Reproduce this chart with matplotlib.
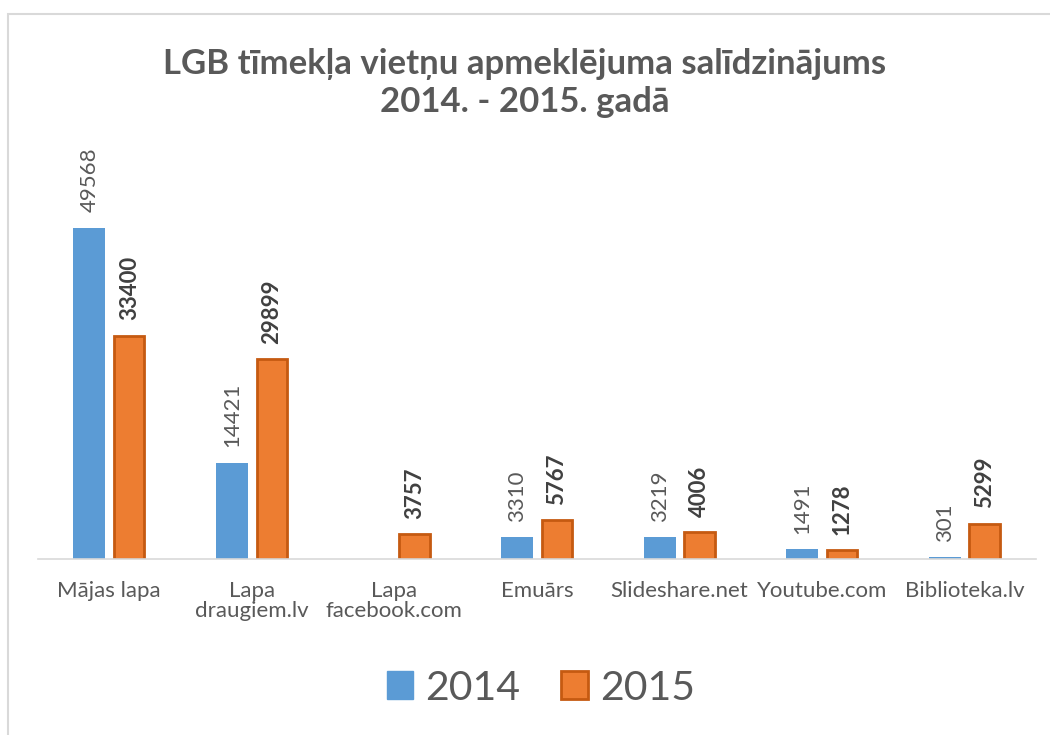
import matplotlib.pyplot as plt
import numpy as np
from matplotlib.patches import Rectangle, Patch

categories = ['Mājas lapa', 'Lapa\ndraugiem.lv', 'Lapa\nfacebook.com', 'Emuārs',
              'Slideshare.net', 'Youtube.com', 'Biblioteka.lv']
values_2014 = [49568, 14421, None, 3310, 3219, 1491, 301]
values_2015 = [33400, 29899, 3757, 5767, 4006, 1278, 5299]
series_names = ['2014', '2015']

blue = '#5B9BD5'
orange = '#ED7D31'
orange_edge = '#C55A11'
text_gray = '#595959'

plt.rcParams['font.family'] = ['Lato', 'DejaVu Sans']

fig = plt.figure(figsize=[10.5, 7.35], dpi=100)
ax = fig.add_axes([38 / 1050, 1 - 559 / 735, 998 / 1050, (559 - 158) / 735])

x = np.arange(len(categories))
w = 0.225
off = 0.14

v14 = np.array([np.nan if v is None else v for v in values_2014], dtype=float)
v15 = np.array(values_2015, dtype=float)

ax.bar(x - off, np.nan_to_num(v14), width=w, color=blue, linewidth=0)
ax.bar(x + off, v15, width=w - 0.012, color=orange, edgecolor=orange_edge, linewidth=2)

# value labels, 2015 ones in bold
for i in range(len(categories)):
    if not np.isnan(v14[i]):
        ax.annotate(str(int(v14[i])), (x[i] - off, v14[i]), xytext=(0, 11),
                    textcoords='offset points', rotation=90, ha='center', va='bottom',
                    fontsize=16, color=text_gray)
    ax.annotate(str(int(v15[i])), (x[i] + off, v15[i]), xytext=(0, 11),
                textcoords='offset points', rotation=90, ha='center', va='bottom',
                fontsize=16, color='#404040', fontweight='bold')

ax.set_xlim(-0.5, len(categories) - 0.5)
ax.set_ylim(0, 60000)
ax.set_xticks(x)
ax.set_xticklabels(categories, fontsize=16, color=text_gray, linespacing=1.0)
ax.tick_params(axis='x', length=0, pad=16)
ax.set_yticks([])
for s in ['top', 'right', 'left']:
    ax.spines[s].set_visible(False)
ax.spines['bottom'].set_color('#D9D9D9')
ax.spines['bottom'].set_linewidth(1.2)

fig.text(0.5, 1 - 83 / 735, 'LGB tīmekļa vietņu apmeklējuma salīdzinājums\n2014. - 2015. gadā',
         ha='center', va='center', fontsize=25, fontweight='bold', color=text_gray,
         linespacing=1.25)

handles = [Patch(facecolor=blue, edgecolor=blue),
           Patch(facecolor=orange, edgecolor=orange_edge, linewidth=2)]
fig.legend(handles, series_names, loc='center', bbox_to_anchor=(541 / 1050, 1 - 688 / 735),
           ncol=2, frameon=False, fontsize=29.5, labelcolor=text_gray,
           handlelength=0.65, handleheight=0.65, handletextpad=0.3, columnspacing=1.0)

# chart border (only top and left edge visible in the crop)
fig.patches.append(Rectangle((8 / 1050, -0.1), 1.2, 1 - 14 / 735 + 0.1,
                             transform=fig.transFigure, fill=False,
                             edgecolor='#D9D9D9', linewidth=1.5))

fig.savefig('out.png', dpi=100)
